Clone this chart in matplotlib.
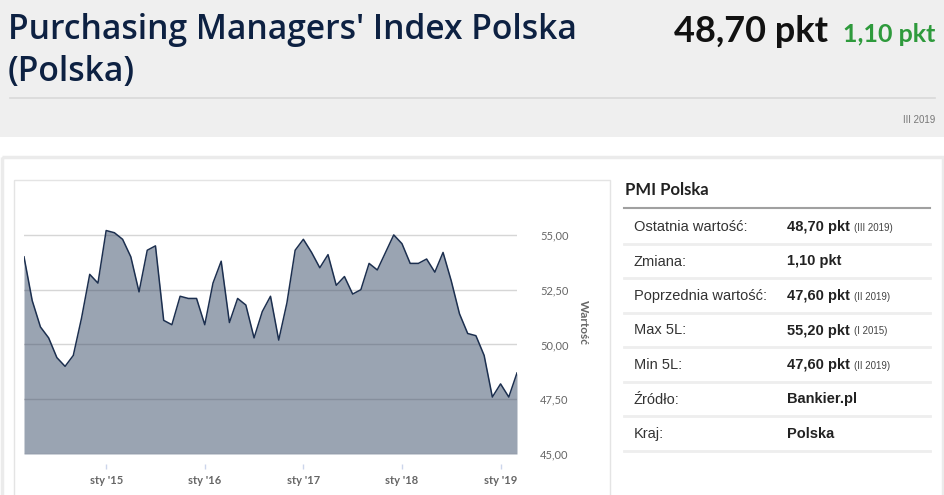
# PMI Polska - wykres z bankier.pl odtworzony w matplotlib
import matplotlib.pyplot as plt
from matplotlib.patches import Rectangle
import numpy as np
import pandas as pd

# DANE
# miesieczne odczyty PMI, od marca 2014 do marca 2019
pmi = [54.0, 52.0, 50.8, 50.3, 49.4, 49.0, 49.5, 51.2, 53.2, 52.8,
       55.2, 55.1, 54.8, 54.0, 52.4, 54.3, 54.5, 51.1, 50.9, 52.2, 52.1, 52.1,
       50.9, 52.8, 53.8, 51.0, 52.1, 51.8, 50.3, 51.5, 52.2, 50.2, 51.9, 54.3,
       54.8, 54.2, 53.5, 54.1, 52.7, 53.1, 52.3, 52.5, 53.7, 53.4, 54.2, 55.0,
       54.6, 53.7, 53.7, 53.9, 53.3, 54.2, 52.9, 51.4, 50.5, 50.4, 49.5, 47.6,
       48.2, 47.6, 48.7]
months = pd.date_range("2014-03-01", periods=len(pmi), freq="MS")
yticks = [45, 47.5, 50, 52.5, 55]

row_labels = ["Ostatnia wartość:", "Zmiana:", "Poprzednia wartość:", "Max 5L:",
              "Min 5L:", "Źródło:", "Kraj:"]
row_values = ["48,70 pkt", "1,10 pkt", "47,60 pkt", "55,20 pkt", "47,60 pkt",
              "Bankier.pl", "Polska"]
row_periods = ["(III 2019)", "", "(II 2019)", "(I 2015)", "(II 2019)", "", ""]

W, H = 945, 495
fig = plt.figure(figsize=(W / 100, H / 100), dpi=100)
fig.patch.set_facecolor("white")

# tlo strony w pikselach
bg = fig.add_axes([0, 0, 1, 1], zorder=-1)
bg.set_xlim(0, W)
bg.set_ylim(H, 0)
bg.axis("off")
bg.add_patch(Rectangle((0, 0), W, 137, color="#efefef", lw=0))
bg.plot([10, 935], [98, 98], color="#d9d9d9", lw=1.2)
bg.add_patch(Rectangle((1.5, 157), 941, 345, fill=False, ec="#ebebeb", lw=2.5))
bg.add_patch(Rectangle((14, 180), 596, 330, fill=False, ec="#e4e4e4", lw=1))

hfont = "Lato"
tfont = "Open Sans"
bg.text(8, 30, "Purchasing Managers' Index Polska", fontsize=24.2, color="#0d2142",
        family=tfont, weight="semibold", va="center", ha="left")
bg.text(8, 72, "(Polska)", fontsize=24.2, color="#0d2142", family=tfont,
        weight="semibold", va="center", ha="left")
bg.text(828, 31, "48,70 pkt", fontsize=26, color="#111111", family=hfont,
        weight="bold", va="center", ha="right")
bg.text(935, 35, "1,10 pkt", fontsize=18, color="#2e9a3c", family=hfont,
        weight="bold", va="center", ha="right")
bg.text(935, 120, "III 2019", fontsize=7, color="#777777", family="Liberation Sans",
        va="center", ha="right")

# tabelka po prawej
bg.text(625, 190, "PMI Polska", fontsize=12, color="#222222", family=hfont,
        weight="bold", va="center")
bg.plot([624, 930], [208, 208], color="#a0a0a0", lw=1.5)
fig.canvas.draw()
rend = fig.canvas.get_renderer()
inv = bg.transData.inverted()
for i in range(len(row_labels)):
    y = 227 + i * 34.5
    bg.text(634, y, row_labels[i], fontsize=10.5, color="#333333",
            family="Liberation Sans", va="center")
    t = bg.text(787, y, row_values[i], fontsize=10.5, color="#222222",
                family="Liberation Sans", weight="bold", va="center")
    if row_periods[i]:
        x_end = inv.transform(t.get_window_extent(rend).get_points())[1][0]
        bg.text(x_end + 4, y + 1, row_periods[i], fontsize=7, color="#444444",
                family="Liberation Sans", va="center")
    bg.plot([624, 930], [y + 16.5, y + 16.5], color="#eeeeee", lw=2)

# WYKRES
x = np.arange(len(pmi))
ax = fig.add_axes([24 / W, (H - 454) / H, 493 / W, (454 - 190) / H])
ax.set_facecolor("none")
ax.fill_between(x, 45, pmi, color="#374a66", alpha=0.5, lw=0, zorder=2)
ax.plot(x, pmi, color="#1c2f4f", lw=1.1, zorder=3)
ax.set_xlim(0, len(pmi) - 1)
ax.set_ylim(45, 57.05)

ax.set_yticks(yticks)
ax.set_yticklabels([f"{v:.2f}".replace(".", ",") for v in yticks])
ax.yaxis.tick_right()
ax.grid(axis="y", color="#d6d6d6", lw=1, zorder=1)
ax.set_axisbelow(True)
ax.tick_params(axis="y", length=0, pad=16.5, labelsize=8, labelcolor="#666666")
for lbl in ax.get_yticklabels():
    lbl.set_family(hfont)

jan = [i for i, m in enumerate(months) if m.month == 1]
ax.set_xticks(jan)
ax.set_xticklabels([f"sty '{months[i].year % 100}" for i in jan])
ax.spines["bottom"].set_position(("outward", 7.2))
for s in ax.spines.values():
    s.set_visible(False)
ax.tick_params(axis="x", length=3.6, width=1, color="#ccd6eb", pad=4,
               labelsize=8, labelcolor="#666666")
for lbl in ax.get_xticklabels():
    lbl.set_family(hfont)
    lbl.set_weight("bold")

bg.text(583, 322, "Wartość", rotation=270, fontsize=8.5, color="#666666",
        family=hfont, weight="bold", va="center", ha="center")

plt.savefig("out.png", dpi=100)
